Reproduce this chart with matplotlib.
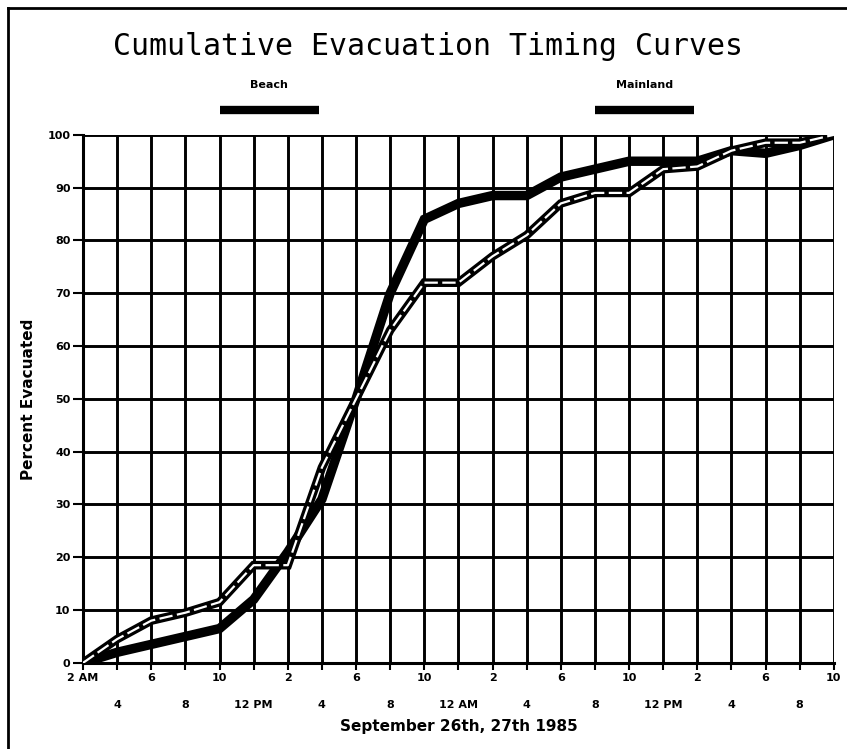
import matplotlib.pyplot as plt
from matplotlib.lines import Line2D
from matplotlib.transforms import blended_transform_factory

# hours elapsed since 2 AM, Sept 26 (one reading every 2 hours)
hours = list(range(0, 46, 2))

beach_pct = [0, 2, 3.5, 5, 6.5, 12, 21, 31, 50, 70, 84, 87, 88.5, 88.5,
             92, 93.5, 95, 95, 95, 97, 96.5, 98, 100]
mainland_pct = [0, 4.5, 8, 9.5, 11.5, 18.5, 18.5, 37, 50, 63, 72, 72, 77, 81,
                87, 89, 89, 93.5, 94, 97, 98.5, 98.5, 100]

# evacuation order windows (hours since 2 AM)
beach_order = (8, 13.8)
mainland_order = (30, 35.8)

upper_ticks = list(range(0, 45, 4))
upper_labels = ["2 AM", "6", "10", "2", "6", "10", "2", "6", "10", "2", "6", "10"]
lower_ticks = list(range(2, 45, 4))
lower_labels = ["4", "8", "12 PM", "4", "8", "12 AM", "4", "8", "12 PM", "4", "8"]
y_ticks = list(range(0, 101, 10))

fig = plt.figure(figsize=(8.47, 7.49), dpi=100)
ax = fig.add_axes([0.098, 0.115, 0.8865, 0.705])

for h in hours:
    ax.axvline(h, color="black", lw=2.1, zorder=1)
for y in y_ticks:
    ax.axhline(y, color="black", lw=2.1, zorder=1)

ax.plot(hours, beach_pct, color="black", lw=6.8, solid_joinstyle="miter", zorder=3)
ax.plot(hours, mainland_pct, color="black", lw=6.2, solid_joinstyle="miter", zorder=4)
ax.plot(hours, mainland_pct, color="white", lw=1.6, dashes=(6, 2), zorder=5)

ax.set_xlim(0, 44)
ax.set_ylim(0, 100)
for side in ["top", "right"]:
    ax.spines[side].set_visible(False)
for side in ["left", "bottom"]:
    ax.spines[side].set_linewidth(2.2)

tick_font = dict(fontsize=8, fontweight="bold", family="DejaVu Sans")
ax.set_xticks(upper_ticks)
ax.set_xticklabels(upper_labels, **tick_font)
ax.set_xticks(lower_ticks, minor=True)
ax.set_xticklabels(lower_labels, minor=True, **tick_font)
ax.tick_params(axis="x", which="major", length=5, width=1.5, pad=2)
ax.tick_params(axis="x", which="minor", length=5, width=1.5, pad=22)
ax.set_yticks(y_ticks)
ax.set_yticklabels([str(v) for v in y_ticks], **tick_font)
ax.tick_params(axis="y", length=7, width=1.5, pad=2)

ax.set_xlabel("September 26th, 27th 1985", fontsize=11, fontweight="bold",
              labelpad=6)
ax.set_ylabel("Percent Evacuated", fontsize=11, fontweight="bold", labelpad=8)

fig.text(0.505, 0.938, "Cumulative Evacuation Timing Curves", ha="center",
         va="center", fontsize=21.5, family="DejaVu Sans Mono")

# legend bars above the plot, aligned with the order windows
trans = blended_transform_factory(ax.transData, fig.transFigure)
for name, (start, end) in [("Beach", beach_order), ("Mainland", mainland_order)]:
    ax.add_line(Line2D([start, end], [0.853, 0.853], transform=trans,
                       color="black", lw=6, solid_capstyle="butt",
                       clip_on=False))
    ax.text((start + end) / 2, 0.886, name, transform=trans, ha="center",
            va="center", fontsize=8, fontweight="bold")

# page frame
fig.add_artist(Line2D([0.009, 1.0], [0.989, 0.989], color="black", lw=2))
fig.add_artist(Line2D([0.009, 0.009], [0.989, 0.0], color="black", lw=2))

fig.savefig("out.png", dpi=100)
